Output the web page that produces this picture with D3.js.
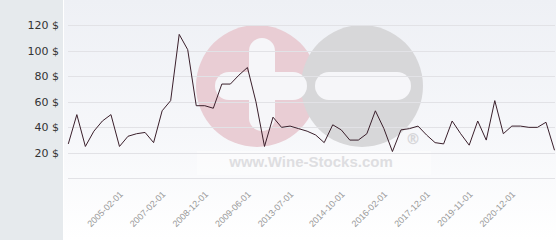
<!DOCTYPE html>
<html lang="en">
<head>
    <meta charset="UTF-8">
    <script src="https://d3js.org/d3.v7.min.js"></script>
    <title>Price chart</title>
    <style>
        body {
            margin: 0;
            background: #fff;
        }
        svg {
            display: block;
        }
    </style>
</head>
<body>
<div id="my_dataviz"></div>
<script>

    var prices = [27, 50, 25, 37, 45, 50, 25, 33, 35, 36,
                  28, 53, 61, 113, 101, 57, 57, 55, 74, 74,
                  81, 87, 60, 25, 48, 40, 41, 39, 37, 34,
                  28, 42, 38, 30, 30, 35, 53, 39, 21, 38,
                  39, 41, 34, 28, 27, 45, 35, 26, 45, 30,
                  61, 35, 41, 41, 40, 40, 44, 22];

    // labelled dates on the x axis and the observation they belong to
    var tickLabels = ["2005-02-01", "2007-02-01", "2008-12-01", "2009-06-01", "2013-07-01",
                      "2014-10-01", "2016-02-01", "2017-12-01", "2019-11-01", "2020-12-01"];
    var tickIndex = [6, 11, 16, 21, 26, 32, 37, 42, 47, 52];

    var yTicks = [0, 20, 40, 60, 80, 100, 120];

    var W = 560, H = 240;
    var svg = d3.select("#my_dataviz")
        .append("svg")
        .attr("width", W)
        .attr("height", H);

    var defs = svg.append("defs");
    var grad = defs.append("linearGradient")
        .attr("id", "bg")
        .attr("x1", 0).attr("y1", 0).attr("x2", 0).attr("y2", 1);
    grad.append("stop").attr("offset", "0%").attr("stop-color", "#eef0f5");
    grad.append("stop").attr("offset", "55%").attr("stop-color", "#f6f7fa");
    grad.append("stop").attr("offset", "100%").attr("stop-color", "#ffffff");

    // left panel and plot background
    svg.append("rect").attr("x", 0).attr("y", 0).attr("width", 63).attr("height", H)
        .attr("fill", "#e6eaed");
    svg.append("rect").attr("x", 64).attr("y", 0).attr("width", 492).attr("height", H)
        .attr("fill", "url(#bg)");

    var x = d3.scalePoint()
        .domain(d3.range(prices.length))
        .range([68.3, 554.5]);

    var y = d3.scaleLinear()
        .domain([0, 140])
        .range([178.3, 0]);

    // watermark
    var wm = svg.append("g");
    wm.append("circle").attr("cx", 257).attr("cy", 86).attr("r", 61).attr("fill", "#e9cdd4");
    wm.append("circle").attr("cx", 362).attr("cy", 86).attr("r", 61).attr("fill", "#d7d7d9");
    wm.append("rect").attr("x", 249).attr("y", 38).attr("width", 26).attr("height", 93)
        .attr("rx", 13).attr("fill", "#f6f6f9");
    wm.append("rect").attr("x", 215).attr("y", 72).attr("width", 92).attr("height", 28)
        .attr("rx", 14).attr("fill", "#f6f6f9");
    wm.append("rect").attr("x", 315).attr("y", 72).attr("width", 96).attr("height", 28)
        .attr("rx", 14).attr("fill", "#f6f6f9");
    wm.append("text").attr("x", 413).attr("y", 144)
        .attr("text-anchor", "middle")
        .style("font", "bold 15px 'DejaVu Sans'")
        .attr("fill", "#d6d6d9")
        .text("®");
    wm.append("rect").attr("x", 197).attr("y", 151).attr("width", 234).attr("height", 24)
        .attr("fill", "#ffffff").attr("opacity", 0.4);
    wm.append("text").attr("x", 311).attr("y", 167)
        .attr("text-anchor", "middle")
        .style("font", "bold 15px 'Liberation Sans'")
        .attr("fill", "#dedee1")
        .text("www.Wine-Stocks.com");

    // grid lines
    svg.append("g")
        .selectAll("line")
        .data(yTicks)
        .enter().append("line")
        .attr("x1", 68).attr("x2", 555)
        .attr("y1", function(d) { return Math.round(y(d)) + 0.5; })
        .attr("y2", function(d) { return Math.round(y(d)) + 0.5; })
        .attr("stroke", "#e2e2e6")
        .attr("stroke-width", 1);

    // y labels
    svg.append("g")
        .selectAll("text")
        .data(yTicks.filter(function(d) { return d > 0; }))
        .enter().append("text")
        .attr("x", 59)
        .attr("y", function(d) { return y(d) + 4; })
        .attr("text-anchor", "end")
        .style("font", "11px 'DejaVu Sans'")
        .attr("fill", "#333")
        .text(function(d) { return d + " $"; });

    // x labels
    svg.append("g")
        .selectAll("text")
        .data(tickIndex)
        .enter().append("text")
        .attr("transform", function(d) { return "translate(" + (x(d) + 4) + ",195) rotate(-45)"; })
        .attr("text-anchor", "end")
        .style("font", "9px 'Liberation Sans'")
        .attr("fill", "#999")
        .text(function(d, i) { return tickLabels[i]; });

    // price line
    svg.append("path")
        .datum(prices)
        .attr("fill", "none")
        .attr("stroke", "#3a1f2b")
        .attr("stroke-width", 1)
        .attr("d", d3.line()
            .x(function(d, i) { return x(i); })
            .y(function(d) { return y(d); })
        );

</script>
</body>
</html>
